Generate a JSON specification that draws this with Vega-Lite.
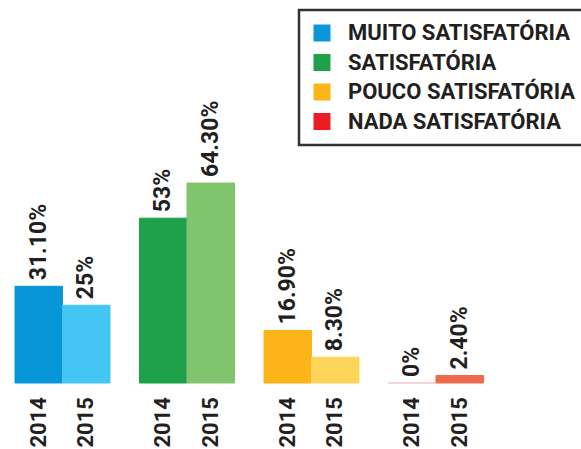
{
  "$schema": "https://vega.github.io/schema/vega-lite/v6.json",
  "width": 581,
  "height": 449,
  "autosize": "none",
  "padding": 0,
  "background": "white",
  "config": {"view": {"stroke": null}, "legend": {"strokeWidth": 2.5}},
  "data": {"values": [
    {"group": "MUITO SATISFATÓRIA", "year": "2014", "key": "muito-2014", "value": 31.1, "label": "31.10%"},
    {"group": "MUITO SATISFATÓRIA", "year": "2015", "key": "muito-2015", "value": 25, "label": "25%"},
    {"group": "SATISFATÓRIA", "year": "2014", "key": "sat-2014", "value": 53, "label": "53%"},
    {"group": "SATISFATÓRIA", "year": "2015", "key": "sat-2015", "value": 64.3, "label": "64.30%"},
    {"group": "POUCO SATISFATÓRIA", "year": "2014", "key": "pouco-2014", "value": 16.9, "label": "16.90%"},
    {"group": "POUCO SATISFATÓRIA", "year": "2015", "key": "pouco-2015", "value": 8.3, "label": "8.30%"},
    {"group": "NADA SATISFATÓRIA", "year": "2014", "key": "nada-2014", "value": 0, "label": "0%"},
    {"group": "NADA SATISFATÓRIA", "year": "2015", "key": "nada-2015", "value": 2.4, "label": "2.40%"}
  ]},
  "encoding": {
    "x": {"field": "group", "type": "nominal", "sort": null, "axis": null,
          "scale": {"range": [15, 483.5], "paddingInner": 0.237, "paddingOuter": 0}},
    "xOffset": {"field": "year", "type": "nominal", "sort": null, "scale": {"paddingInner": 0, "paddingOuter": 0}},
    "y": {"field": "value", "type": "quantitative", "axis": null, "scale": {"domain": [-21.22, 123.15], "nice": false, "zero": false}}
  },
  "layer": [
    {
      "mark": {"type": "bar", "strokeWidth": 1},
      "encoding": {
        "y2": {"datum": 0},
        "fill": {"field": "key", "type": "nominal", "legend": null, "sort": null,
                 "scale": {"domain": ["muito-2014","muito-2015","sat-2014","sat-2015","pouco-2014","pouco-2015","nada-2014","nada-2015"],
                           "range": ["#0796d7","#43c6f3","#1ea14a","#80c56d","#fbb518","#fdd55a","#f7c6c6","#ee6a4c"]}},
        "stroke": {"field": "key", "type": "nominal", "legend": null, "sort": null,
                 "scale": {"domain": ["muito-2014","muito-2015","sat-2014","sat-2015","pouco-2014","pouco-2015","nada-2014","nada-2015"],
                           "range": ["#0796d7","#43c6f3","#1ea14a","#80c56d","#fbb518","#fdd55a","#f7c6c6","#ee6a4c"]}}
      }
    },
    {
      "mark": {"type": "text", "angle": 270, "align": "left", "baseline": "middle", "dx": 6,
               "font": "Roboto", "fontSize": 23, "fontWeight": "bold", "color": "#231f20"},
      "encoding": {"text": {"field": "label"}}
    },
    {
      "mark": {"type": "text", "angle": 270, "align": "right", "baseline": "middle", "dx": -14,
               "font": "Roboto", "fontSize": 22, "fontWeight": "bold", "color": "#231f20"},
      "encoding": {"text": {"field": "year"}, "y": {"datum": 0, "type": "quantitative"}}
    },
    {
      "mark": {"type": "square", "opacity": 0, "size": 1},
      "encoding": {
        "y": {"datum": 0, "type": "quantitative"},
        "color": {"field": "group", "type": "nominal", "sort": null,
                  "scale": {"domain": ["MUITO SATISFATÓRIA","SATISFATÓRIA","POUCO SATISFATÓRIA","NADA SATISFATÓRIA"],
                            "range": ["#0a96d8","#1fa149","#fbb516","#ed1c24"]},
                  "legend": {"orient": "none", "legendX": 299, "legendY": 10, "title": null,
                             "strokeColor": "#333333", "fillColor": "white", "padding": 12,
                             "symbolType": "square", "symbolSize": 289, "symbolStrokeWidth": 0, "symbolOpacity": 1,
                             "labelFont": "Roboto", "labelFontSize": 22, "labelFontWeight": "bold",
                             "labelColor": "#231f20", "labelOffset": 15, "rowPadding": 7.5, "labelLimit": 400}}
      }
    }
  ]
}
